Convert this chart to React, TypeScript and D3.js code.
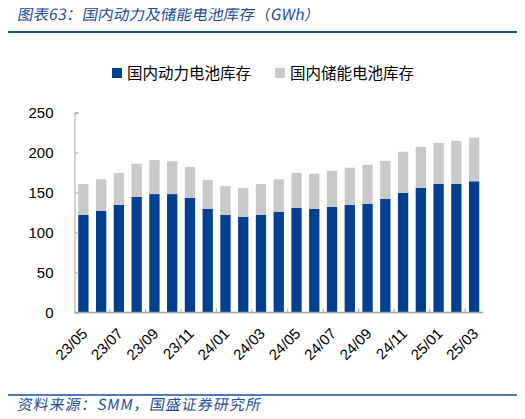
import * as d3 from "d3";
import React, { useEffect, useRef } from "react";

const months = [
  "23/05", "23/06", "23/07", "23/08", "23/09", "23/10", "23/11", "23/12",
  "24/01", "24/02", "24/03", "24/04", "24/05", "24/06", "24/07", "24/08",
  "24/09", "24/10", "24/11", "24/12", "25/01", "25/02", "25/03",
];
const powerStock = [
  122, 127, 134.5, 144.5, 148, 148, 143.5, 129.5, 122, 119.5, 122, 126,
  131, 129.5, 132, 134.5, 136, 142, 149.5, 156, 161, 161, 164,
];
const storageStock = [
  38.5, 39.5, 40, 41.5, 42.5, 41, 38.5, 36, 36, 36, 38.5, 40.5,
  43.5, 44, 45, 46.5, 48.5, 47.5, 51.5, 51, 51, 53.5, 54.5,
];
const seriesNames = ["国内动力电池库存", "国内储能电池库存"];
const yTicks = [0, 50, 100, 150, 200, 250];

const blue = "#00408F";
const gray = "#C9C9C9";
const textBlue = "#1F4E9A";

const App: React.FC = () => {
  const ref = useRef<SVGSVGElement>(null);

  useEffect(() => {
    const width = 525;
    const height = 419;
    const marginLeft = 74.5;
    const marginRight = 483;
    const yTop = 112.5;
    const yBottom = 312.5;

    const svg = d3.select(ref.current);
    svg.selectAll("*").remove();
    svg.attr("width", width).attr("height", height);

    const rows = months.map((m, i) => ({ m, power: powerStock[i], storage: storageStock[i] }));
    const stack = d3.stack<any>().keys(["power", "storage"])(rows);

    const x = d3.scaleBand().domain(months).range([marginLeft, marginRight]).paddingInner(0.42).paddingOuter(0.21);
    const y = d3.scaleLinear().domain([0, 250]).range([yBottom, yTop]);
    const step = x.step();

    // title (skewed to look italic)
    svg.append("text")
      .attr("x", 17).attr("y", 20)
      .attr("fill", textBlue)
      .attr("font-family", "Noto Sans CJK SC")
      .attr("font-size", 15.5)
      .attr("letter-spacing", 0.2)
      .attr("transform", "translate(3.5,0) skewX(-10)")
      .text("图表63：国内动力及储能电池库存（GWh）");
    svg.append("line").attr("x1", 5).attr("x2", 517).attr("y1", 32).attr("y2", 32)
      .attr("stroke", "#1B4C9C").attr("stroke-width", 2.2);

    // legend
    const legend = svg.append("g").attr("font-family", "Noto Sans CJK SC").attr("font-size", 15.5);
    const legendX = [112, 275];
    seriesNames.forEach((name, i) => {
      legend.append("rect").attr("x", legendX[i]).attr("y", 68).attr("width", 10).attr("height", 10)
        .attr("fill", i === 0 ? blue : gray);
      legend.append("text").attr("x", legendX[i] + 15).attr("y", 79).attr("fill", "#000").text(name);
    });

    // bars
    svg.append("g")
      .selectAll("g")
      .data(stack)
      .join("g")
      .attr("fill", (_, i) => (i === 0 ? blue : gray))
      .selectAll("rect")
      .data(d => d)
      .join("rect")
      .attr("x", d => x(d.data.m)!)
      .attr("width", x.bandwidth())
      .attr("y", d => y(d[1]))
      .attr("height", d => y(d[0]) - y(d[1]));

    // y axis
    const yAxis = svg.append("g")
      .attr("transform", `translate(${marginLeft},0)`)
      .call(d3.axisLeft(y).tickValues(yTicks).tickSize(-4).tickPadding(21))
      .attr("font-family", "Liberation Sans")
      .attr("font-size", 15);
    yAxis.select(".domain").attr("stroke", "#A6A6A6");
    yAxis.selectAll(".tick line").attr("stroke", "#A6A6A6");
    yAxis.selectAll(".tick text").attr("fill", "#000").attr("dy", "0.35em");

    // x axis
    const xg = svg.append("g");
    xg.append("line").attr("x1", marginLeft).attr("x2", marginRight)
      .attr("y1", yBottom).attr("y2", yBottom).attr("stroke", "#A6A6A6").attr("stroke-width", 1.5);
    xg.selectAll("line.tk")
      .data(months.filter((_, i) => i % 2 === 0 && i > 0))
      .join("line")
      .attr("class", "tk")
      .attr("x1", d => x(d)! - (step - x.bandwidth()) / 2)
      .attr("x2", d => x(d)! - (step - x.bandwidth()) / 2)
      .attr("y1", yBottom).attr("y2", yBottom - 4)
      .attr("stroke", "#A6A6A6");
    xg.selectAll("text")
      .data(months.filter((_, i) => i % 2 === 0))
      .join("text")
      .attr("text-anchor", "end")
      .attr("font-family", "Liberation Sans")
      .attr("font-size", 15)
      .attr("fill", "#000")
      .attr("transform", d => `translate(${x(d)! + x.bandwidth() / 2 + 5},${yBottom + 22}) rotate(-45)`)
      .text(d => d);

    // footer
    svg.append("line").attr("x1", 5).attr("x2", 517).attr("y1", 395).attr("y2", 395)
      .attr("stroke", "#1B4C9C").attr("stroke-width", 1.5);
    svg.append("text")
      .attr("x", 17).attr("y", 410)
      .attr("fill", textBlue)
      .attr("font-family", "Noto Sans CJK SC")
      .attr("font-size", 15)
      .attr("letter-spacing", 1)
      .attr("transform", "translate(72,0) skewX(-10)")
      .text("资料来源：SMM，国盛证券研究所");
  }, []);

  return (
    <div style={{ margin: "-8px" }}>
      <svg ref={ref} style={{ display: "block" }} />
    </div>
  );
};

export default App;
